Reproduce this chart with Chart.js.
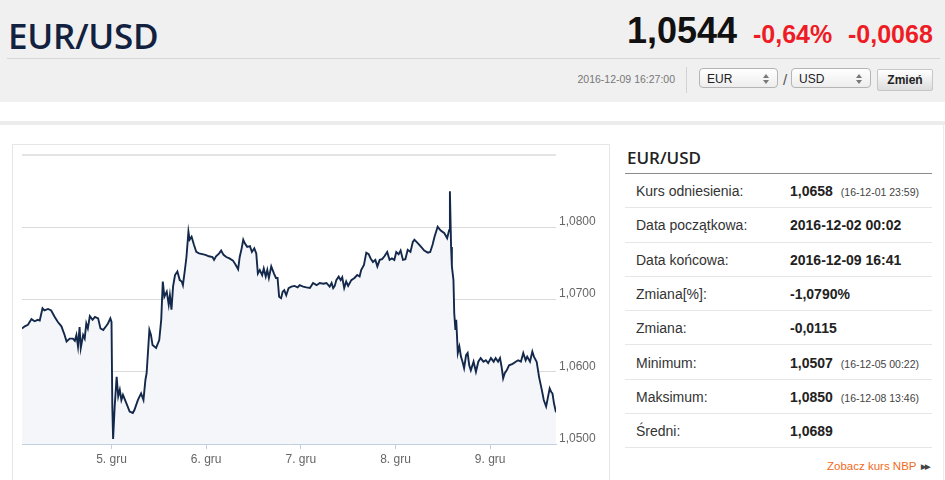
<!DOCTYPE html>
<html lang="pl">
<head>
<meta charset="utf-8">
<title>EUR/USD</title>
<script src="https://cdn.jsdelivr.net/npm/chart.js@4.4.0/dist/chart.umd.min.js"></script>
<style>
  html, body { margin: 0; padding: 0; }
  body { width: 945px; height: 480px; overflow: hidden; position: relative; background: #fff;
         font-family: "Liberation Sans", Arial, sans-serif; color: #333; }
  .abs { position: absolute; white-space: nowrap; line-height: 1; }
  #top { position: absolute; left: 0; top: 0; width: 945px; height: 102px; background: #f0f0f0; }
  #pair { left: 8px; top: 12px; font: 600 35px "Open Sans", sans-serif; color: #12213f; letter-spacing: -0.3px; }
  #price { left: 627px; top: 13px; font-size: 36px; font-weight: bold; color: #111; }
  .red { font-size: 25px; font-weight: bold; color: #ee1c25; top: 22px; }
  #sep { left: 7px; top: 58px; width: 933px; height: 1px; background: #d6d6d6; }
  #stamp { right: 270px; top: 74px; font-size: 10.5px; color: #777; }
  #vdiv { left: 686px; top: 67px; width: 1px; height: 26px; background: #d2d2d2; }
  .sel { position: absolute; top: 68px; height: 20px; border: 1px solid #b4b4b4; border-radius: 4px;
         background: linear-gradient(#ffffff, #ededed); box-sizing: border-box; }
  .sel span { position: absolute; left: 7px; top: 4px; font-size: 12px; line-height: 1; color: #222; }
  .sel i.up, .sel i.dn { position: absolute; right: 8px; width: 0; height: 0;
         border-left: 3px solid transparent; border-right: 3px solid transparent; }
  .sel i.up { top: 5px; border-bottom: 4px solid #777; }
  .sel i.dn { top: 11px; border-top: 4px solid #777; }
  #slash { left: 783px; top: 72px; font-size: 15px; color: #555; }
  #btn { position: absolute; left: 877px; top: 69px; width: 56px; height: 22px; box-sizing: border-box;
         border: 1px solid #c6c6c6; border-radius: 2px; background: linear-gradient(#ffffff, #dddddd);
         font-size: 12px; font-weight: bold; color: #222; text-align: center; line-height: 20px; }
  #band { left: 0; top: 121px; width: 945px; height: 4px; background: #ececec; }
  #rline { left: 943px; top: 125px; width: 1px; height: 355px; background: #ececec; }
  #box { position: absolute; left: 12px; top: 144px; width: 598px; height: 345px;
         border: 1px solid #e6e6e6; box-sizing: border-box; }
  #wrap { position: absolute; left: 13px; top: 145px; width: 596px; height: 335px; }
  #ttl { left: 627px; top: 146px; font: 600 17px "Open Sans", sans-serif; color: #222; }
  #tline { left: 625px; top: 173px; width: 307px; height: 1px; background: #8c8c8c; }
  .row { position: absolute; left: 625px; width: 307px; height: 34.3px; border-bottom: 1px solid #e6e6e6;
         box-sizing: border-box; font-size: 14px; line-height: 34px; white-space: nowrap; }
  .row .lab { position: absolute; left: 11px; color: #333; }
  .row .val { position: absolute; left: 165px; color: #222; font-weight: bold; }
  .row .val small { font-weight: normal; font-size: 10.5px; color: #444; margin-left: 8px; }
  #nbp { left: 827px; top: 461px; font-size: 11.5px; color: #f26a21; }
  #nbp b { color: #444; font-size: 7px; margin-left: 5px; letter-spacing: -1px; vertical-align: 1px; }
</style>
</head>
<body>
<div id="top"></div>
<div class="abs" id="pair">EUR/USD</div>
<div class="abs" id="price">1,0544</div>
<div class="abs red" style="left:753px">-0,64%</div>
<div class="abs red" style="left:848px">-0,0068</div>
<div class="abs" id="sep"></div>
<div class="abs" id="stamp">2016-12-09 16:27:00</div>
<div class="abs" id="vdiv"></div>
<div class="sel" style="left:699px;width:79px"><span>EUR</span><i class="up"></i><i class="dn"></i></div>
<div class="abs" id="slash">/</div>
<div class="sel" style="left:791px;width:80px"><span>USD</span><i class="up"></i><i class="dn"></i></div>
<div id="btn">Zmień</div>
<div class="abs" id="band"></div>
<div class="abs" id="rline"></div>

<div id="box"></div>
<div id="wrap"><canvas id="fxChart"></canvas></div>

<div class="abs" id="ttl">EUR/USD</div>
<div class="abs" id="tline"></div>
<div id="rows"></div>
<div class="abs" id="nbp">Zobacz kurs NBP<b>&#9654;&#9654;</b></div>

<script>
// hours of trading since 2016-12-02 00:00 (weekend 3-4 Dec skipped)
const hours = [
  1.3, 2.0, 2.8, 3.7, 4.5, 5.3, 5.8, 6.5, 7.0, 7.9, 8.7, 9.6, 10.4, 11.3, 12.1, 12.6, 13.4, 14.2, 14.7, 15.1,
  15.5, 15.9, 16.2, 16.8, 17.2, 17.6, 18.0, 18.5, 19.2, 19.8, 20.6, 21.2, 21.9, 22.6, 23.1, 23.7, 24.0,
  24.2, 24.4, 24.8, 25.3, 25.7, 26.1, 26.5, 26.9, 27.8, 28.6, 29.4, 29.8, 30.7, 31.5, 32.1, 32.6, 32.9,
  33.6, 34.0, 34.4, 35.3, 36.1, 36.6, 37.0, 37.4, 38.0, 38.5, 38.8, 39.2, 39.6, 40.1, 40.7, 41.3, 41.8,
  42.1, 42.6, 43.0, 43.5, 43.8, 44.3, 44.9, 45.5, 46.2, 47.0, 47.8,
  48.7, 49.6, 50.0, 50.5, 51.3, 51.8, 52.4, 53.1, 53.9, 54.8, 55.5, 56.1, 56.5, 57.0, 57.4, 57.8, 58.4,
  59.1, 59.6, 60.2, 60.7, 61.1, 61.6, 62.2, 62.6, 63.1, 63.5, 63.9, 64.5, 65.2, 65.7, 66.1, 66.5, 67.0,
  67.4, 67.8, 68.3, 68.9, 69.6, 70.4, 71.2, 71.7,
  72.6, 73.4, 74.3, 75.1, 76.0, 76.8, 77.7, 78.5, 79.3, 79.8, 80.2, 80.6, 81.0, 81.6, 82.1, 82.5, 83.0,
  83.5, 84.0, 84.8, 85.6, 86.3, 86.9, 87.3, 88.0, 88.6, 89.2, 89.7, 90.3, 90.9, 91.4, 92.0, 92.6, 93.2,
  93.9, 94.5, 95.1, 95.7,
  96.2, 96.8, 97.3, 97.9, 98.5, 99.1, 99.8, 100.4, 100.8, 101.7, 102.5, 103.3, 104.2, 104.8, 105.4, 105.9,
  106.7, 107.4, 108.4, 109.1, 109.6, 109.8, 110.1, 110.3, 110.7, 110.9, 111.2, 111.4, 111.8, 112.2, 112.6,
  113.0, 113.4, 113.9, 114.3, 114.7, 115.1, 115.8, 116.4, 117.0, 117.6, 118.3, 118.9, 119.5,
  120.2, 120.9, 121.4, 122.0, 122.5, 122.9, 123.3, 123.7, 124.2, 124.8, 125.7, 126.5, 127.1, 127.8, 128.4,
  129.0, 129.4, 130.1, 130.7, 131.1, 131.8, 132.4, 133.1, 133.6, 134.2, 134.7, 135.1, 135.5, 135.8, 136.2,
  136.7
];

const rates = [
  1.0660, 1.0663, 1.0665, 1.0673, 1.0670, 1.0672, 1.0671, 1.0688, 1.0685, 1.0687, 1.0685, 1.0676, 1.0669,
  1.0663, 1.0651, 1.0642, 1.0646, 1.0646, 1.0643, 1.0651, 1.0635, 1.0662, 1.0633, 1.0651, 1.0646, 1.0667,
  1.0660, 1.0677, 1.0672, 1.0676, 1.0674, 1.0660, 1.0658, 1.0663, 1.0667, 1.0674, 1.0669,
  1.0552, 1.0507, 1.0552, 1.0593, 1.0566, 1.0575, 1.0561, 1.0568, 1.0556, 1.0545, 1.0543, 1.0547, 1.0561,
  1.0570, 1.0561, 1.0589, 1.0598, 1.0658, 1.0651, 1.0637, 1.0633, 1.0644, 1.0672, 1.0725, 1.0704, 1.0711,
  1.0693, 1.0706, 1.0686, 1.0718, 1.0734, 1.0739, 1.0727, 1.0725, 1.0720, 1.0741, 1.0759, 1.0794, 1.0783,
  1.0787, 1.0776, 1.0766, 1.0764, 1.0763, 1.0762,
  1.0760, 1.0759, 1.0755, 1.0760, 1.0764, 1.0768, 1.0762, 1.0759, 1.0757, 1.0754, 1.0748, 1.0742, 1.0759,
  1.0771, 1.0783, 1.0778, 1.0773, 1.0774, 1.0766, 1.0771, 1.0764, 1.0736, 1.0741, 1.0734, 1.0743, 1.0732,
  1.0741, 1.0730, 1.0746, 1.0736, 1.0730, 1.0730, 1.0704, 1.0702, 1.0711, 1.0713, 1.0706, 1.0716, 1.0718,
  1.0719, 1.0717, 1.0720,
  1.0718, 1.0717, 1.0716, 1.0723, 1.0720, 1.0723, 1.0722, 1.0723, 1.0718, 1.0723, 1.0716, 1.0719, 1.0727,
  1.0732, 1.0727, 1.0731, 1.0716, 1.0725, 1.0719, 1.0727, 1.0730, 1.0734, 1.0732, 1.0741, 1.0748, 1.0765,
  1.0763, 1.0757, 1.0752, 1.0755, 1.0746, 1.0755, 1.0756, 1.0760, 1.0766, 1.0755, 1.0757, 1.0755,
  1.0766, 1.0763, 1.0768, 1.0755, 1.0756, 1.0769, 1.0766, 1.0780, 1.0783, 1.0778, 1.0773, 1.0768, 1.0765,
  1.0766, 1.0776, 1.0787, 1.0801, 1.0796, 1.0792, 1.0785, 1.0796, 1.0850, 1.0773, 1.0746, 1.0727, 1.0681,
  1.0658, 1.0672, 1.0626, 1.0635, 1.0621, 1.0614, 1.0605, 1.0623, 1.0626, 1.0609, 1.0602, 1.0614, 1.0600,
  1.0614, 1.0619, 1.0614, 1.0616, 1.0612,
  1.0619, 1.0614, 1.0619, 1.0614, 1.0619, 1.0607, 1.0591, 1.0598, 1.0602, 1.0609, 1.0611, 1.0614, 1.0616,
  1.0614, 1.0626, 1.0616, 1.0621, 1.0614, 1.0628, 1.0621, 1.0614, 1.0593, 1.0575, 1.0561, 1.0552, 1.0566,
  1.0577, 1.0572, 1.0570, 1.0556, 1.0544
];

const dayTicks = [24, 48, 72, 96, 120];
const dayLabels = ['5. gru', '6. gru', '7. gru', '8. gru', '9. gru'];
const rateTicks = [1.05, 1.06, 1.07, 1.08, 1.09];

// side table
const statLabels = ['Kurs odniesienia:', 'Data początkowa:', 'Data końcowa:', 'Zmiana[%]:', 'Zmiana:',
  'Minimum:', 'Maksimum:', 'Średni:'];
const statValues = ['1,0658', '2016-12-02 00:02', '2016-12-09 16:41', '-1,0790%', '-0,0115',
  '1,0507', '1,0850', '1,0689'];
const statTimes = ['(16-12-01 23:59)', '', '', '', '', '(16-12-05 00:22)', '(16-12-08 13:46)', ''];

const rows = document.getElementById('rows');
statLabels.forEach((lab, i) => {
  const r = document.createElement('div');
  r.className = 'row';
  r.style.top = (174 + i * 34.3) + 'px';
  r.innerHTML = '<span class="lab">' + lab + '</span><span class="val">' + statValues[i] +
    (statTimes[i] ? '<small>' + statTimes[i] + '</small>' : '') + '</span>';
  rows.appendChild(r);
});

const fmt = v => v.toFixed(4).replace('.', ',');

const ctx = document.getElementById('fxChart');

const chart = new Chart(ctx, {
  type: 'line',
  data: {
    datasets: [{
      data: hours.map((h, i) => ({ x: h, y: rates[i] })),
      borderColor: '#13284a',
      borderWidth: 1.9,
      backgroundColor: '#f4f6f9',
      fill: 'start',
      pointRadius: 0,
      tension: 0
    }]
  },
  options: {
    responsive: true,
    maintainAspectRatio: false,
    animation: false,
    layout: { padding: { left: 9, top: 9, right: 0, bottom: 0 } },
    plugins: {
      legend: { display: false },
      tooltip: { enabled: false }
    },
    scales: {
      x: {
        type: 'linear',
        min: hours[0],
        max: hours[hours.length - 1],
        afterBuildTicks: s => { s.ticks = dayTicks.map(v => ({ value: v })); },
        afterFit: s => { s.height = 36; },
        ticks: {
          autoSkip: false,
          maxRotation: 0,
          padding: 3,
          color: '#666',
          font: { family: 'Liberation Sans, Arial', size: 12 },
          callback: v => dayLabels[dayTicks.indexOf(v)]
        },
        grid: { drawOnChartArea: false, drawTicks: true, tickLength: 5, color: '#c0d0e0' },
        border: { color: '#c0d0e0' }
      },
      y: {
        position: 'right',
        min: 1.05,
        max: 1.09,
        afterBuildTicks: s => { s.ticks = rateTicks.map(v => ({ value: v })); },
        afterFit: s => { s.width = 53; },
        ticks: {
          padding: 3,
          labelOffset: -5.5,
          color: '#666',
          font: { family: 'Liberation Sans, Arial', size: 12 },
          callback: v => (v >= 1.09 ? '' : fmt(v))
        },
        grid: {
          drawTicks: false,
          color: c => (c.tick.value <= 1.05 ? 'rgba(0,0,0,0)' : (c.tick.value >= 1.09 ? '#e4e4e4' : '#d9d9d9')),
          lineWidth: c => (c.tick.value >= 1.09 ? 2 : 1)
        },
        border: { display: false }
      }
    }
  }
});
</script>
</body>
</html>
